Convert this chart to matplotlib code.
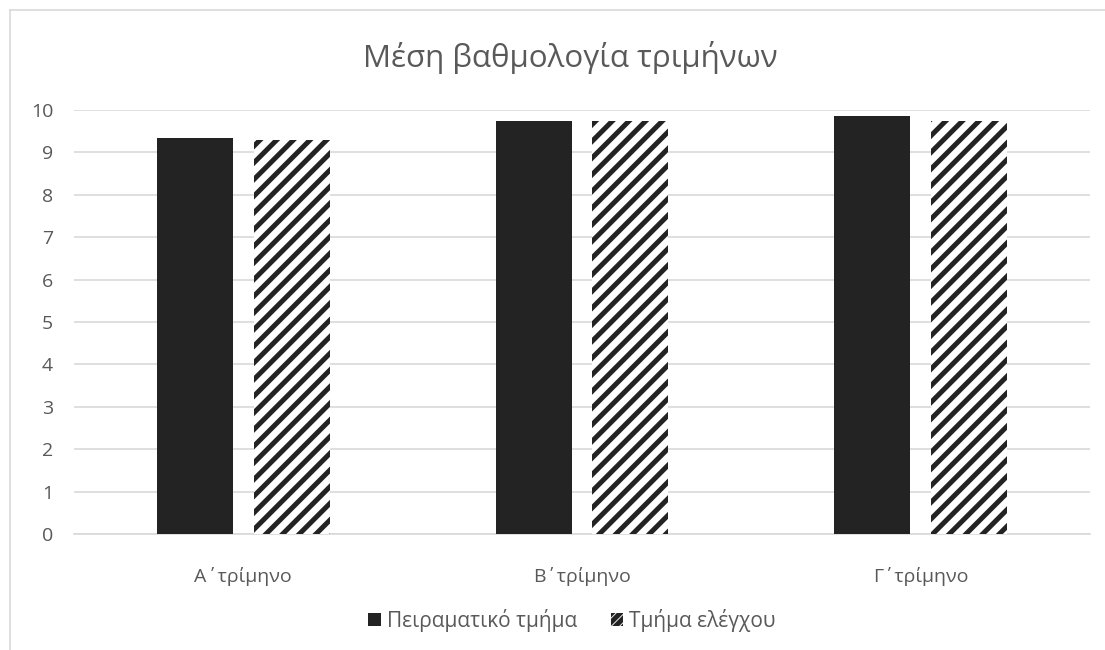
import matplotlib
matplotlib.use("Agg")
import matplotlib.pyplot as plt
import numpy as np
from matplotlib.patches import Patch
from matplotlib.lines import Line2D

categories = ["Α΄τρίμηνο", "Β΄τρίμηνο", "Γ΄τρίμηνο"]
series_names = ["Πειραματικό τμήμα", "Τμήμα ελέγχου"]
experimental = [9.33, 9.74, 9.87]
control = [9.29, 9.75, 9.75]
yticks = list(range(0, 11))
title = "Μέση βαθμολογία τριμήνων"

plt.rcParams['font.family'] = ['Open Sans', 'DejaVu Sans']
plt.rcParams['hatch.linewidth'] = 3.6

txt = '#595959'
grid = '#d9d9d9'
dark = '#232323'

fig = plt.figure(figsize=(11.05, 6.5), dpi=100)
ax = fig.add_axes([74/1105, 1-534/650, (1090-74)/1105, (534-110)/650])

x = np.arange(len(categories))
w = 0.224
off = 0.143
ax.bar(x - off, experimental, width=w, color=dark, linewidth=0, zorder=3)
ax.bar(x + off, control, width=w, facecolor='white', edgecolor=dark, hatch='//', linewidth=0, zorder=3)

ax.set_xlim(-0.5, len(categories) - 0.5)
ax.set_ylim(0, 10)
ax.set_yticks(yticks)
ax.set_yticklabels([str(t) for t in yticks])
ax.set_xticks(x)
ax.set_xticklabels(categories)
ax.tick_params(axis='both', length=0, colors=txt, labelsize=14)
ax.tick_params(axis='y', pad=15)
ax.tick_params(axis='x', pad=24)
ax.grid(axis='y', color=grid, linewidth=1.2, zorder=0)
for s in ['top', 'right', 'left']:
    ax.spines[s].set_visible(False)
ax.spines['bottom'].set_color(grid)
ax.spines['bottom'].set_linewidth(1.2)

fig.text(570/1105, 1-58/650, title, ha='center', va='center', fontsize=22.5, color=txt)

handles = [Patch(facecolor=dark, edgecolor=dark, linewidth=0),
           Patch(facecolor='white', edgecolor=dark, hatch='////', linewidth=0)]
fig.legend(handles, series_names, loc='center', bbox_to_anchor=(572/1105, 1-620/650),
           ncol=2, frameon=False, fontsize=15, labelcolor=txt,
           handlelength=0.6, handleheight=0.6, handletextpad=0.3, columnspacing=1.6)

fig.add_artist(Line2D([10/1105, 10/1105], [0, 1-10/650], transform=fig.transFigure, color=grid, linewidth=1.2))
fig.add_artist(Line2D([10/1105, 1], [1-10/650, 1-10/650], transform=fig.transFigure, color=grid, linewidth=1.2))

fig.savefig("out.png", dpi=100, facecolor='white')
